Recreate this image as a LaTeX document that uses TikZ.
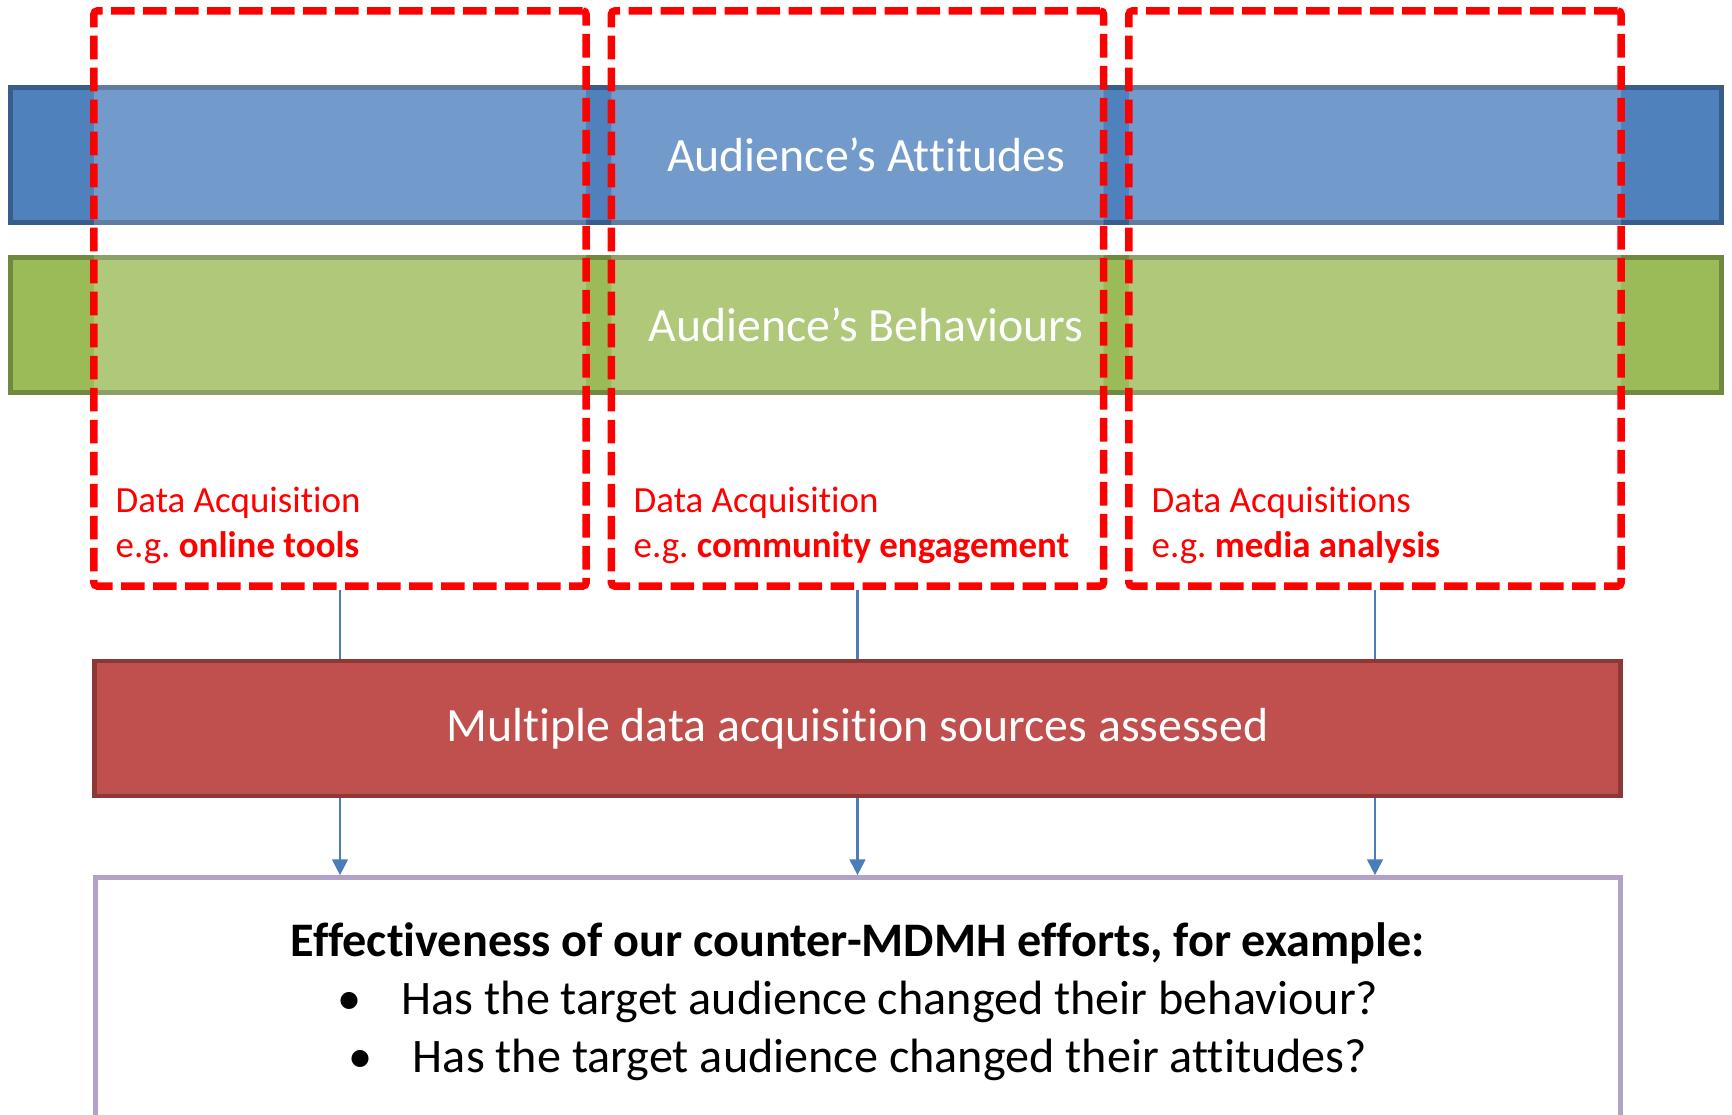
\documentclass[tikz,border=0pt]{standalone}
\usepackage{fontspec}
\setmainfont{Carlito}[Ligatures={TeX,NoCommon}]
\usetikzlibrary{arrows.meta, calc}

\definecolor{attblue}{HTML}{4F81BD}
\definecolor{attborder}{HTML}{385D8A}
\definecolor{behgreen}{HTML}{9BBB59}
\definecolor{behborder}{HTML}{71893F}
\definecolor{multired}{HTML}{C0504D}
\definecolor{multiborder}{HTML}{8C3836}
\definecolor{effborder}{HTML}{B3A2C7}
\definecolor{srcred}{HTML}{FF0000}
\definecolor{linkblue}{HTML}{4A7EBB}

\frenchspacing

\begin{document}
\begin{tikzpicture}[x=0.01cm, y=-0.01cm,
        bar/.style={draw, line width=1.3pt, inner sep=0pt, minimum width=17.10cm, minimum height=1.345cm, text=white, font=\fontsize{13.6}{16}\selectfont},
        source/.style={draw=srcred, line width=2.1pt, dash pattern=on 6.7pt off 2.4pt, rounded corners=1pt, fill=white, fill opacity=0.2, minimum width=4.92cm, minimum height=5.75cm},
        srclabel/.style={text=srcred, align=left, inner sep=0pt, font=\fontsize{10.5}{12.6}\selectfont},
        link/.style={draw=linkblue, line width=0.6pt}]
        \useasboundingbox (0,0) rectangle (1732,1115);
        \clip (0,0) rectangle (1732,1115);

        \coordinate (A) at (866,155);
        \coordinate (B) at (866,325);
        \coordinate (S1) at (340,298.5);
        \coordinate (S2) at (857.5,298.5);
        \coordinate (S3) at (1375,298.5);
        \coordinate (M) at (857.5,728.5);
        \coordinate (E) at (858,1001.75);

        \node[bar, fill=attblue, draw=attborder] (att) at (A) {Audience’s Attitudes};
        \node[bar, fill=behgreen, draw=behborder] (beh) at (B) {Audience’s Behaviours};

        \node[source] (src1) at (S1) {};
        \node[source] (src2) at (S2) {};
        \node[source] (src3) at (S3) {};

        \node[srclabel, anchor=base west] (lab1) at (115,557) {Data Acquisition\\e.g. \textbf{online tools}};
        \node[srclabel, anchor=base west] (lab2) at (633,557) {Data Acquisition\\e.g. \textbf{community engagement}};
        \node[srclabel, anchor=base west] (lab3) at (1151,557) {Data Acquisitions\\e.g. \textbf{media analysis}};

        \node[draw=multiborder, fill=multired, line width=1.3pt, minimum width=15.25cm, minimum height=1.35cm, text=white, font=\fontsize{13.6}{16}\selectfont] (multi) at (M) {Multiple data acquisition sources assessed};

        \node[draw=effborder, fill=white, line width=1.3pt, minimum width=15.24cm, minimum height=2.485cm, align=center, font=\fontsize{13.7}{16.4}\selectfont] (effect) at (E) {\textbf{Effectiveness of our counter-MDMH efforts, for example:}\\•\hspace{0.4cm}Has the target audience changed their behaviour?\\•\hspace{0.4cm}Has the target audience changed their attitudes?};

        % sources feed the assessment
        \draw[link] (src1.south) -- (src1.south |- multi.north);
        \draw[link] (src2.south) -- (src2.south |- multi.north);
        \draw[link] (src3.south) -- (src3.south |- multi.north);

        \draw[link, -{Triangle[length=4.5pt, width=4.5pt]}] (src1.south |- multi.south) -- (src1.south |- effect.north);
        \draw[link, -{Triangle[length=4.5pt, width=4.5pt]}] (src2.south |- multi.south) -- (src2.south |- effect.north);
        \draw[link, -{Triangle[length=4.5pt, width=4.5pt]}] (src3.south |- multi.south) -- (src3.south |- effect.north);
    \end{tikzpicture}
\end{document}
